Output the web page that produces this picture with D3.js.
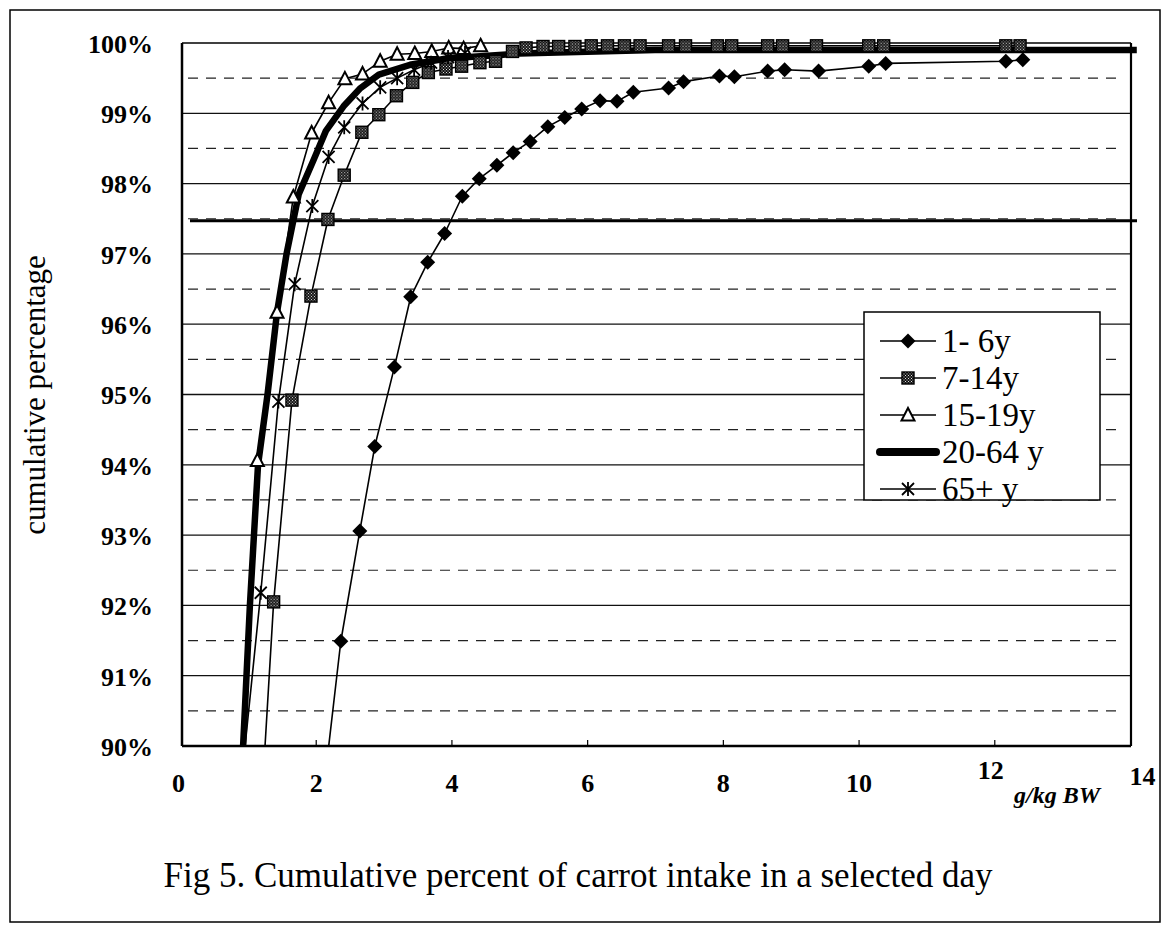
<!DOCTYPE html>
<html>
<head>
<meta charset="utf-8">
<script src="https://cdn.jsdelivr.net/npm/d3@7/dist/d3.min.js"></script>
<style>
body { margin: 0; background: #fff; }
svg { display: block; }
</style>
</head>
<body>
<div id="chart"></div>
<script>
var ages = ["1- 6y", "7-14y", "15-19y", "20-64 y", "65+ y"];
var xTicks = [0, 2, 4, 6, 8, 10, 12, 14];
var yTicks = [90, 91, 92, 93, 94, 95, 96, 97, 98, 99, 100];
var refLine = 97.47;

// g/kg BW  vs  cumulative %
var kidsX = [2.0, 2.37, 2.65, 2.87, 3.16, 3.40, 3.65, 3.90, 4.16, 4.41, 4.67, 4.91, 5.16, 5.42, 5.67, 5.92, 6.19, 6.44, 6.68, 7.20, 7.42, 7.95, 8.17, 8.66, 8.91, 9.41, 10.15, 10.40, 12.17, 12.42];
var kidsY = [88.4, 91.49, 93.06, 94.26, 95.39, 96.39, 96.88, 97.29, 97.82, 98.07, 98.26, 98.44, 98.60, 98.81, 98.94, 99.06, 99.18, 99.17, 99.30, 99.36, 99.45, 99.53, 99.52, 99.60, 99.62, 99.60, 99.67, 99.71, 99.74, 99.76];

var schoolX = [1.16, 1.38, 1.65, 1.93, 2.18, 2.42, 2.68, 2.93, 3.19, 3.43, 3.66, 3.92, 4.15, 4.42, 4.65, 4.90, 5.10, 5.35, 5.58, 5.82, 6.06, 6.30, 6.55, 6.78, 7.20, 7.45, 7.92, 8.13, 8.66, 8.88, 9.38, 10.15, 10.37, 12.17, 12.38];
var schoolY = [88.5, 92.05, 94.92, 96.40, 97.49, 98.12, 98.73, 98.98, 99.25, 99.44, 99.58, 99.63, 99.67, 99.72, 99.74, 99.88, 99.93, 99.95, 99.95, 99.95, 99.96, 99.96, 99.96, 99.96, 99.96, 99.96, 99.96, 99.96, 99.96, 99.96, 99.96, 99.96, 99.96, 99.96, 99.96];

var teenX = [0.85, 1.14, 1.43, 1.67, 1.94, 2.19, 2.43, 2.69, 2.95, 3.20, 3.46, 3.71, 3.96, 4.18, 4.43];
var teenY = [88.5, 94.06, 96.17, 97.81, 98.72, 99.15, 99.49, 99.56, 99.74, 99.84, 99.85, 99.88, 99.93, 99.92, 99.96];

var adultX = [0.93, 0.98, 1.03, 1.09, 1.15, 1.29, 1.43, 1.57, 1.75, 1.97, 2.15, 2.41, 2.65, 2.93, 3.39, 3.93, 5.0, 7.0, 14.1];
var adultY = [90, 91, 92, 93, 94, 95, 96.17, 97.0, 97.85, 98.34, 98.75, 99.10, 99.35, 99.55, 99.69, 99.78, 99.85, 99.9, 99.9];

var elderX = [0.8, 1.19, 1.45, 1.69, 1.95, 2.19, 2.42, 2.69, 2.95, 3.20, 3.45, 3.70, 3.95, 4.20];
var elderY = [88.5, 92.18, 94.90, 96.57, 97.68, 98.38, 98.80, 99.14, 99.37, 99.50, 99.62, 99.72, 99.80, 99.86];

(function() {
	var width = 1162,
	height = 931;
	var font = "'Liberation Serif', 'Times New Roman', serif";

	var svg = d3.select("#chart")
		.append("svg")
		.attr("width", width)
		.attr("height", height)
		.style("font-family", font);

	var defs = svg.append("defs");
	var pat = defs.append("pattern")
		.attr("id", "speck")
		.attr("width", 3).attr("height", 3)
		.attr("patternUnits", "userSpaceOnUse");
	pat.append("rect").attr("width", 3).attr("height", 3).attr("fill", "#111");
	pat.append("rect").attr("x", 0).attr("y", 0).attr("width", 1).attr("height", 1).attr("fill", "#ddd");
	pat.append("rect").attr("x", 1.5).attr("y", 1.5).attr("width", 1).attr("height", 1).attr("fill", "#ddd");

	var left = 182, right = 1131, top = 43, bottom = 746;

	var x = d3.scaleLinear().domain([0, 14]).range([180, 1130]);
	var y = d3.scaleLinear().domain([90, 100]).range([bottom, top]);

	defs.append("clipPath").attr("id", "clip")
		.append("rect")
		.attr("x", left).attr("y", 0)
		.attr("width", right - left + 10).attr("height", bottom);

	// outer frame
	svg.append("rect")
		.attr("x", 10).attr("y", 10)
		.attr("width", 1150).attr("height", 912)
		.attr("fill", "none").attr("stroke", "#000").attr("stroke-width", 1.5);

	// grid
	svg.selectAll(".solid")
		.data(yTicks.slice(1, -1))
		.enter().append("line")
		.attr("class", "solid")
		.attr("x1", left).attr("x2", right)
		.attr("y1", function(d) { return y(d); })
		.attr("y2", function(d) { return y(d); })
		.attr("stroke", "#111").attr("stroke-width", 1.3);

	svg.selectAll(".dash")
		.data(yTicks.slice(0, -1))
		.enter().append("line")
		.attr("class", "dash")
		.attr("x1", left + 6).attr("x2", right - 8)
		.attr("y1", function(d) { return y(d + 0.5); })
		.attr("y2", function(d) { return y(d + 0.5); })
		.attr("stroke", "#222").attr("stroke-width", 1.2)
		.attr("stroke-dasharray", "10,8");

	// plot frame
	svg.append("line").attr("x1", left).attr("x2", right).attr("y1", top).attr("y2", top)
		.attr("stroke", "#000").attr("stroke-width", 1.5);
	svg.append("line").attr("x1", left).attr("x2", left).attr("y1", top).attr("y2", bottom)
		.attr("stroke", "#000").attr("stroke-width", 2.5);
	svg.append("line").attr("x1", right).attr("x2", right).attr("y1", top).attr("y2", bottom)
		.attr("stroke", "#000").attr("stroke-width", 2.2);

	// reference line ~97.5%
	svg.append("line")
		.attr("x1", left + 8).attr("x2", right + 6)
		.attr("y1", y(refLine)).attr("y2", y(refLine))
		.attr("stroke", "#000").attr("stroke-width", 3);

	// axes
	var xAxis = svg.append("g")
		.attr("transform", "translate(0," + bottom + ")")
		.call(d3.axisBottom(x).tickValues(xTicks).tickSizeInner(-6).tickSizeOuter(0).tickPadding(28));
	xAxis.select(".domain").attr("stroke", "#000").attr("stroke-width", 2.5)
		.attr("d", "M" + left + ",0H" + right);
	xAxis.selectAll(".tick line").attr("stroke", "#000").attr("stroke-width", 1.2)
		.filter(function(d) { return d == 0 || d == 14; }).remove();
	xAxis.selectAll(".tick text")
		.attr("fill", "#000")
		.style("font-size", "26px").style("font-weight", "bold").style("font-family", font)
		.attr("transform", function(d) {
			if (d == 12) return "translate(-4,-13)";
			if (d == 14) return "translate(12,-7)";
			if (d == 0) return "translate(-2,0)";
			return null;
		});

	var yAxis = svg.append("g")
		.attr("transform", "translate(" + left + ",0)")
		.call(d3.axisLeft(y).tickValues(yTicks).tickSize(0).tickPadding(29)
			.tickFormat(function(d) { return d + "%"; }));
	yAxis.select(".domain").remove();
	yAxis.selectAll(".tick text")
		.attr("fill", "#000")
		.attr("dy", "0.36em")
		.style("font-size", "26px").style("font-weight", "bold").style("font-family", font);

	svg.append("text")
		.attr("transform", "translate(45,395) rotate(-90)")
		.attr("text-anchor", "middle")
		.style("font-size", "31px")
		.text("cumulative percentage");

	svg.append("text")
		.attr("x", 1100).attr("y", 803)
		.attr("text-anchor", "end")
		.style("font-size", "24px").style("font-style", "italic").style("font-weight", "bold")
		.text("g/kg BW");

	svg.append("text")
		.attr("x", 578).attr("y", 887)
		.attr("text-anchor", "middle")
		.style("font-size", "35px")
		.text("Fig 5. Cumulative percent of carrot intake in a selected day");

	// series
	var series = [
		{ name: ages[0], xs: kidsX, ys: kidsY, mark: "diamond", w: 1.6 },
		{ name: ages[1], xs: schoolX, ys: schoolY, mark: "square", w: 1.6 },
		{ name: ages[2], xs: teenX, ys: teenY, mark: "triangle", w: 1.6 },
		{ name: ages[3], xs: adultX, ys: adultY, mark: null, w: 6.5 },
		{ name: ages[4], xs: elderX, ys: elderY, mark: "star", w: 1.6 }
	];
	series.forEach(function(s) {
		s.values = s.xs.map(function(v, i) { return [v, s.ys[i]]; });
	});

	var line = d3.line()
		.x(function(d) { return x(d[0]); })
		.y(function(d) { return y(d[1]); });

	var plot = svg.append("g").attr("clip-path", "url(#clip)");

	function drawMark(g, type) {
		if (type == "diamond") {
			g.append("path").attr("d", "M0,-7.5L7.5,0L0,7.5L-7.5,0Z").attr("fill", "#000");
		} else if (type == "square") {
			g.append("rect").attr("x", -6).attr("y", -6).attr("width", 12).attr("height", 12)
				.attr("fill", "url(#speck)").attr("stroke", "#000").attr("stroke-width", 1.4);
		} else if (type == "triangle") {
			g.append("path").attr("d", "M0,-7L6.5,5.5L-6.5,5.5Z")
				.attr("fill", "#fff").attr("stroke", "#000").attr("stroke-width", 2);
		} else if (type == "star") {
			g.append("path").attr("d", "M-6,-6L6,6M-6,6L6,-6M0,-7V7")
				.attr("fill", "none").attr("stroke", "#000").attr("stroke-width", 1.8);
		}
	}

	series.forEach(function(s) {
		plot.append("path")
			.datum(s.values)
			.attr("fill", "none")
			.attr("stroke", "#000")
			.attr("stroke-width", s.w)
			.attr("stroke-linejoin", "round")
			.attr("d", line);
	});

	series.forEach(function(s) {
		if (!s.mark) return;
		plot.selectAll(null)
			.data(s.values)
			.enter().append("g")
			.attr("transform", function(d) { return "translate(" + x(d[0]) + "," + y(d[1]) + ")"; })
			.each(function() { drawMark(d3.select(this), s.mark); });
	});

	// legend
	var legend = svg.append("g").attr("transform", "translate(864,312)");
	legend.append("rect")
		.attr("width", 236).attr("height", 188)
		.attr("fill", "#fff").attr("stroke", "#000").attr("stroke-width", 1.5);

	var rows = legend.selectAll(".row")
		.data(series)
		.enter().append("g")
		.attr("class", "row")
		.attr("transform", function(d, i) { return "translate(0," + (29 + i * 37) + ")"; });
	rows.append("line")
		.attr("x1", 16).attr("x2", 72)
		.attr("stroke", "#000")
		.attr("stroke-width", function(d) { return d.w == 6.5 ? 8 : 1.6; })
		.attr("stroke-linecap", function(d) { return d.w == 6.5 ? "round" : "butt"; });
	rows.each(function(d) {
		var g = d3.select(this).append("g").attr("transform", "translate(44,0)");
		drawMark(g, d.mark);
	});
	rows.append("text")
		.attr("x", 78).attr("y", 11)
		.style("font-size", "33px")
		.text(function(d) { return d.name; });
})();
</script>
</body>
</html>
